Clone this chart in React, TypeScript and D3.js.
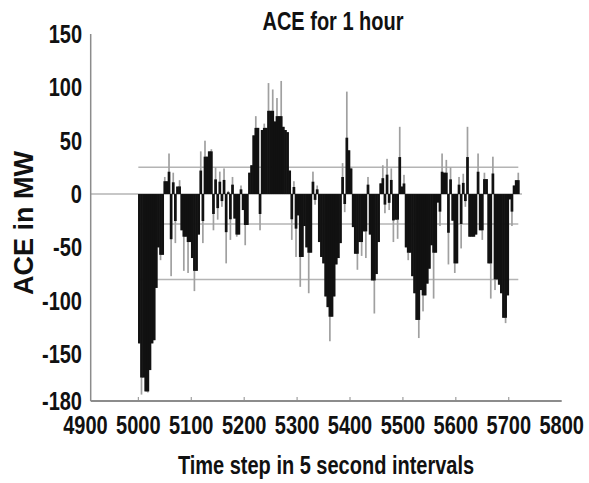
import * as d3 from 'd3';

// ACE readings, one bar per 4 time steps starting at step 5000
const startStep = 5000;
const stepSize = 4;
const aceValues = [
  -140, -188, -172, -185, -186, -165, -140, -137, -88, -50,
  -62, -57, 16, 12, 38, -77, 20, -46, 7, 13,
  -34, -72, -40, -74, -45, -60, -91, -72, -38, 40,
  -46, 50, 35, 40, 42, -34, 25, -24, 21, -12,
  24, -65, 3, -43, 16, -23, -40, -38, 8, -15,
  -48, -29, 20, 27, 55, 73, 62, -34, 60, 66,
  62, 104, 78, 98, 68, 90, 73, 106, 63, 60,
  58, 22, -43, 12, -59, -20, -87, -59, -30, -50,
  -93, -55, 21, -10, 8, -45, -59, -65, -96, -106,
  -138, -115, -96, -66, -60, -46, 29, -17, 96, 41,
  24, -31, -56, -71, -45, -58, -35, -60, 16, -38,
  -81, -112, -75, -45, 10, 27, -18, 33, -15, 24,
  -45, -24, -42, 63, 7, 18, -50, -62, -55, -77,
  -93, -118, -135, -90, -110, -95, -84, -70, -48, -98,
  -55, -8, -30, 38, 20, 32, -66, 25, -25, -74,
  -65, 16, -51, 19, -12, 63, -40, -40, -40, -38,
  38, -34, -43, 20, 14, -65, -98, 35, -90, -80,
  -85, -93, -116, -121, -95, -5, -30, 8, 13, 20,
];

const xTicks = [4900, 5000, 5100, 5200, 5300, 5400, 5500, 5600, 5700, 5800];
const yTicks = [150, 100, 50, 0, -50, -100, -150, -194];
const yTickLabels = ['150', '100', '50', '0', '-50', '-100', '-150', '-180'];
// horizontal guide lines (MW)
const bandLevels = [25, -28, -80];

const font = "'Liberation Sans', Arial, sans-serif";

// bold text squeezed horizontally, like Arial Narrow
function Narrow({ x, y, anchor = 'middle', size = 25, children }: any) {
  return (
    <text
      transform={`translate(${x},${y}) scale(0.8,1)`}
      textAnchor={anchor}
      fontFamily={font}
      fontWeight="bold"
      fontSize={size}
      fill="#111"
    >
      {children}
    </text>
  );
}

export default function App() {
  const width = 589;
  const height = 483;

  const x = d3.scaleLinear().domain([4900, 5800]).range([85.4, 561.7]);
  const y = d3.scaleLinear().domain([-194, 150]).range([401, 34]);

  const axisStart = x(4910);
  const lastStep = startStep + aceValues.length * stepSize;
  const barW = x(startStep + stepSize) - x(startStep);

  // black body up to the level of same-sign neighbours, lighter tip beyond it
  const bars = aceValues.map((v, i) => {
    const sign = v >= 0 ? 1 : -1;
    const nb = [aceValues[i - 1], aceValues[i + 1]]
      .filter((n) => n !== undefined && n * sign > 0)
      .map((n) => Math.abs(n));
    const limit = Math.max(nb.length ? Math.max(...nb) : 0, Math.abs(v) * 0.55);
    const core = sign * Math.min(Math.abs(v), limit);
    return { t: startStep + i * stepSize, v, core };
  });

  return (
    <svg
      width={width}
      height={height}
      style={{ position: 'absolute', left: 0, top: 0, background: '#fff' }}
    >
      {/* guide lines */}
      <line x1={axisStart} x2={x(lastStep + 5)} y1={y(0)} y2={y(0)} stroke="#b4b4b4" strokeWidth={1.5} />
      {bandLevels.map((b) => (
        <line key={b} x1={x(startStep)} x2={x(lastStep - 2)} y1={y(b)} y2={y(b)} stroke="#b4b4b4" strokeWidth={1.5} />
      ))}

      {/* bars */}
      {bars.map((d) => (
        <rect
          key={'g' + d.t}
          x={x(d.t) + 0.2}
          width={barW * 0.8}
          y={y(Math.max(0, d.v))}
          height={Math.abs(y(d.v) - y(0))}
          fill="#a0a0a0"
        />
      ))}
      {bars.map((d) => (
        <rect
          key={'b' + d.t}
          x={x(d.t) - 0.3}
          width={barW + 0.6}
          y={y(Math.max(0, d.core))}
          height={Math.abs(y(d.core) - y(0))}
          fill="#111"
        />
      ))}

      {/* axes */}
      <line x1={axisStart} x2={axisStart} y1={y(150)} y2={y(-194)} stroke="#8c8c8c" strokeWidth={1.5} />
      <line x1={axisStart} x2={x(5800)} y1={y(-194)} y2={y(-194)} stroke="#8c8c8c" strokeWidth={2} />
      {xTicks.slice(1, -1).map((t) => (
        <line key={t} x1={x(t)} x2={x(t)} y1={y(-194)} y2={y(-194) - 4} stroke="#8c8c8c" strokeWidth={1} />
      ))}

      {yTicks.map((v, i) => (
        <Narrow key={v} x={82} y={y(v) + 9} anchor="end">
          {yTickLabels[i]}
        </Narrow>
      ))}
      {xTicks.map((t) => (
        <Narrow key={t} x={x(t)} y={434}>
          {t}
        </Narrow>
      ))}

      <Narrow x={333} y={30}>ACE for 1 hour</Narrow>
      <Narrow x={326} y={474}>Time step in 5 second intervals</Narrow>
      <text
        transform="translate(33,223) rotate(-90)"
        textAnchor="middle"
        fontFamily={font}
        fontWeight="bold"
        fontSize={27}
        fill="#111"
      >
        ACE in MW
      </text>
    </svg>
  );
}
